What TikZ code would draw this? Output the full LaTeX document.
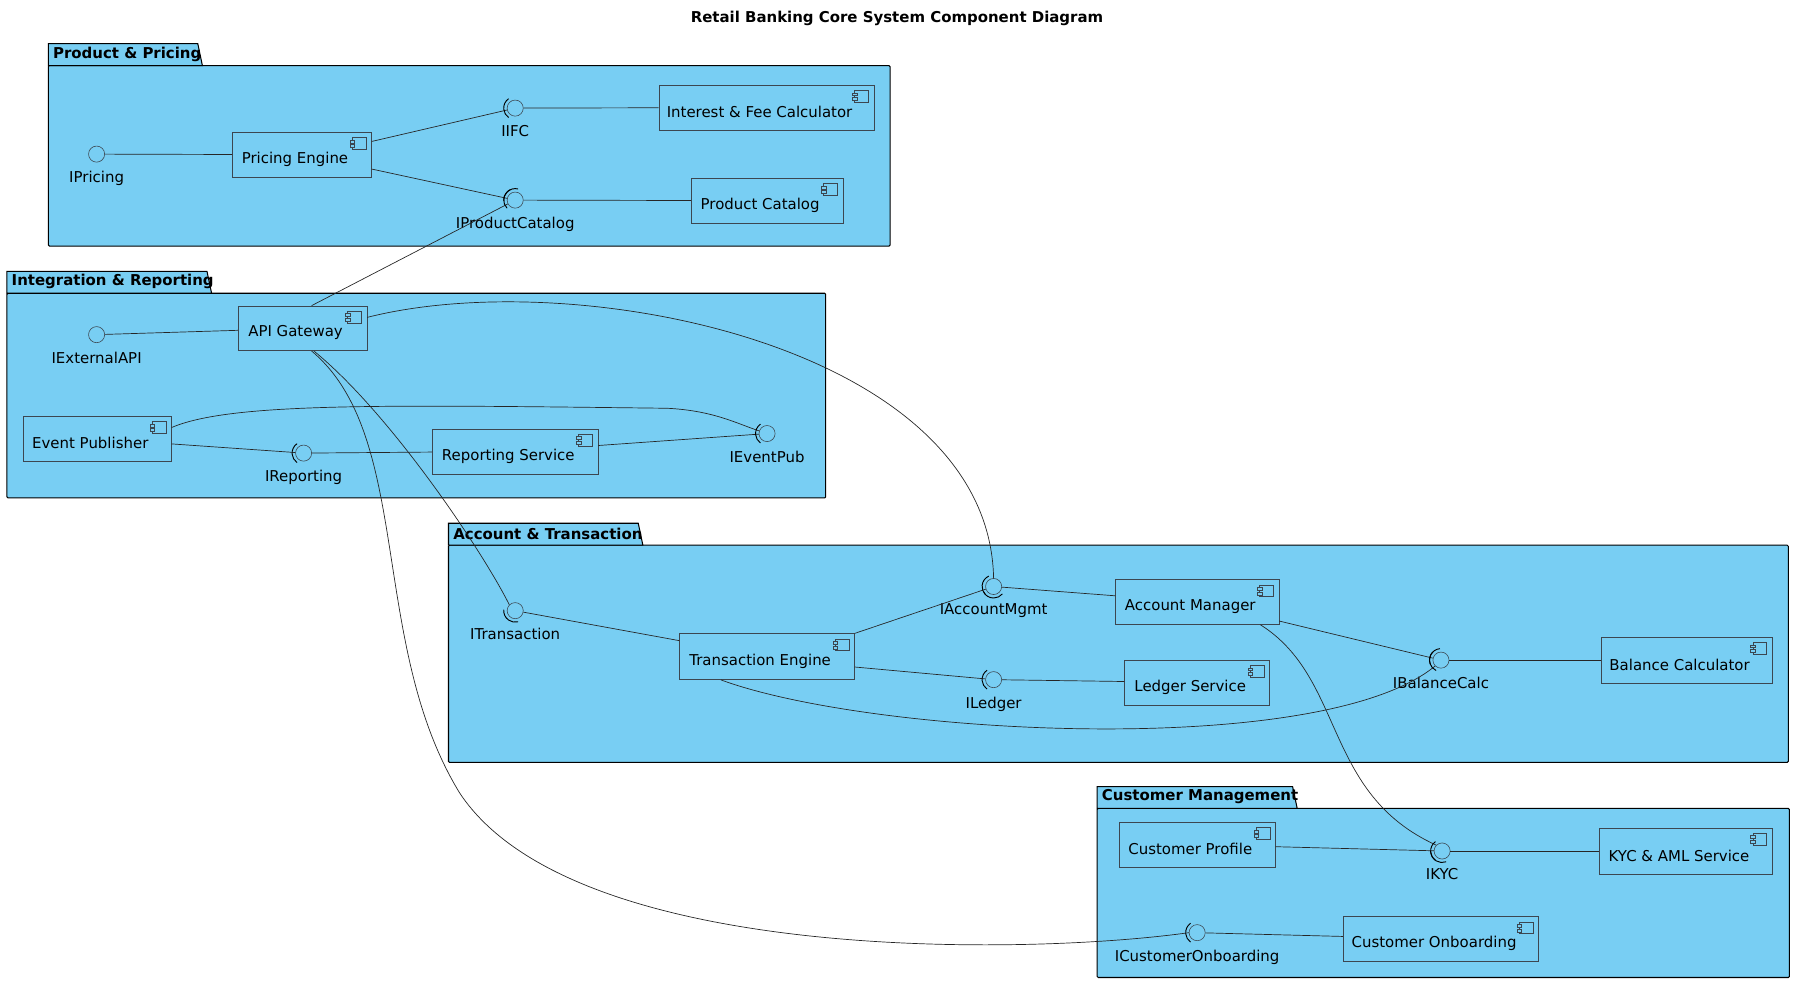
\documentclass[tikz,border=0pt]{standalone}
\usepackage{fontspec}
\setmainfont{DejaVu Sans}
\usetikzlibrary{calc}
\definecolor{pk}{RGB}{120,206,243}
\definecolor{bd}{RGB}{60,70,80}
\tikzset{
  pkg/.style={fill=pk,draw=black,line width=0.9pt,rounded corners=1pt},
  comp/.style={draw=bd,fill=pk,line width=0.5pt,inner sep=0pt},
  ctext/.style={font=\fontsize{13}{15}\selectfont,inner sep=0pt},
  ifc/.style={circle,draw=bd,fill=pk,line width=0.5pt,minimum size=14pt,inner sep=0pt},
  itext/.style={font=\fontsize{13}{15}\selectfont,inner sep=0pt,anchor=north},
  con/.style={draw=black!85,line width=0.6pt},
  sk/.style={draw=black,line width=0.8pt},
  ptit/.style={font=\bfseries\fontsize{13}{15}\selectfont,anchor=west,inner sep=0pt},
  icon/.style={draw=bd,line width=0.5pt,fill=pk}
}
\newcommand{\comp}[6]{\node[comp,minimum width={(#4-#2)*1pt},minimum height={(#5-#3)*1pt}] (#1) at ({(#2+#4)/2},{(#3+#5)/2}) {};
  \node[ctext] (#1-t) at ({(#2+#4)/2-6},{(#3+#5)/2+4}) {#6};}
\newcommand{\ifcn}[4]{\node[ifc] (#1) at (#2,#3) {};\node[itext] (#1-t) at (#2,{#3+15}) {#4};}
\newcommand{\sock}[2]{\draw[sk] ($(#1)+({-#2-55}:10pt)$) arc[start angle={-#2-55},end angle={-#2+55},radius=10pt];}
\newcommand{\pkg}[7]{%
  \draw[pkg] (#2,#3) rectangle (#4,#5);
  \draw[pkg,rounded corners=0pt] (#2,#3) -- (#2,{#3-19}) -- (#6,{#3-19}) -- ({#6+4},#3) -- cycle;
  \node[ptit] at ({#2+4},{#3-10}) {#7};}
\begin{document}
\begin{tikzpicture}[x=1pt,y=-1pt]
\useasboundingbox (0,0) rectangle (1560,873);
\node[font=\bfseries\fontsize{13}{15}\selectfont] (title) at (780,16) {Retail Banking Core System Component Diagram};
% packages
\pkg{pp}{42}{57}{774}{214}{172}{Product \& Pricing}
\pkg{ir}{6}{255}{718}{433}{180}{Integration \& Reporting}
\pkg{at}{390}{474}{1555}{663}{555}{Account \& Transaction}
\pkg{cm}{954}{703}{1556}{850}{1124}{Customer Management}
% components
\comp{pe}{202}{115}{323}{154}{Pricing Engine}
\comp{ifcalc}{573}{74}{760}{113}{Interest \& Fee Calculator}
\comp{pc}{601}{155}{733}{194}{Product Catalog}
\comp{api}{207}{266}{319}{305}{API Gateway}
\comp{ep}{20}{362}{149}{401}{Event Publisher}
\comp{rs}{376}{373}{520}{412}{Reporting Service}
\comp{te}{591}{551}{743}{591}{Transaction Engine}
\comp{am}{970}{504}{1112}{543}{Account Manager}
\comp{ls}{978}{574}{1104}{613}{Ledger Service}
\comp{bc}{1392}{554}{1541}{594}{Balance Calculator}
\comp{cp}{973}{715}{1109}{754}{Customer Profile}
\comp{kyc}{1391}{720}{1541}{760}{KYC \& AML Service}
\comp{co}{1168}{797}{1338}{836}{Customer Onboarding}
\foreach \n in {pe,ifcalc,pc,api,ep,rs,te,am,ls,bc,cp,kyc,co}{
  \draw[icon] ($(\n.north east)+(-17,5)$) rectangle +(12,10);
  \draw[icon] ($(\n.north east)+(-19,7)$) rectangle +(4,2.5);
  \draw[icon] ($(\n.north east)+(-19,11)$) rectangle +(4,2.5);
}
% interfaces
\ifcn{ipr}{84}{134}{IPricing}
\ifcn{iifc}{448}{94}{IIFC}
\ifcn{ipc}{448}{174}{IProductCatalog}
\ifcn{iext}{84}{291}{IExternalAPI}
\ifcn{irep}{264}{394}{IReporting}
\ifcn{iev}{667}{377}{IEventPub}
\ifcn{itr}{448}{531}{ITransaction}
\ifcn{iam}{864}{510}{IAccountMgmt}
\ifcn{ild}{864}{591}{ILedger}
\ifcn{ibc}{1253}{574}{IBalanceCalc}
\ifcn{ikyc}{1254}{740}{IKYC}
\ifcn{ico}{1041}{811}{ICustomerOnboarding}
% connectors
\draw[con] (ipr) -- (pe);
\draw[con] (pe.east|-0,123) -- (iifc);
\draw[con] (pe.east|-0,147) -- (ipc);
\draw[con] (iifc) -- (ifcalc);
\draw[con] (ipc) -- (pc);
\draw[con] ($(api.north)+(8,0)$) -- (ipc);
\draw[con] (iext) -- (api);
\draw[con] (ep) -- (irep);
\draw[con] (irep) -- (rs);
\draw[con] (rs) -- (iev);
\draw[con] ($(ep.north east)+(0,10)$) .. controls (200,350) and (330,352) .. (580,355) .. controls (620,357) and (640,368) .. (iev);
\draw[con] (api.east|-0,276) .. controls (500,230) and (860,300) .. (iam.north);
\draw[con] ($(api.south)+(10,0)$) .. controls (340,360) and (420,480) .. (itr.north west);
\draw[con] ($(api.south)+(8,0)$) .. controls (360,380) and (320,560) .. (400,690) .. controls (500,840) and (900,830) .. (ico.west);
\draw[con] (itr) -- (te);
\draw[con] (te.north east) -- (iam);
\draw[con] (iam) -- (am);
\draw[con] (te.east|-0,580) -- (ild);
\draw[con] (ild) -- (ls);
\draw[con] (am.east|-0,540) -- (ibc);
\draw[con] ($(te.south)+(-40,0)$) .. controls (760,640) and (1150,660) .. (ibc.south west);
\draw[con] (ibc) -- (bc);
\draw[con] ($(am.south)+(55,0)$) .. controls (1170,590) and (1150,690) .. (ikyc.north west);
\draw[con] (cp) -- (ikyc);
\draw[con] (ikyc) -- (kyc);
\draw[con] (ico) -- (co);
% sockets (angle = direction toward the user, y up)
\sock{iifc}{180}
\sock{ipc}{190}
\sock{ipc}{230}
\sock{irep}{180}
\sock{iev}{180}
\sock{itr}{130}
\sock{iam}{95}
\sock{iam}{190}
\sock{ild}{180}
\sock{ibc}{170}
\sock{ibc}{210}
\sock{ikyc}{180}
\sock{ikyc}{125}
\sock{ico}{180}
\end{tikzpicture}
\end{document}
